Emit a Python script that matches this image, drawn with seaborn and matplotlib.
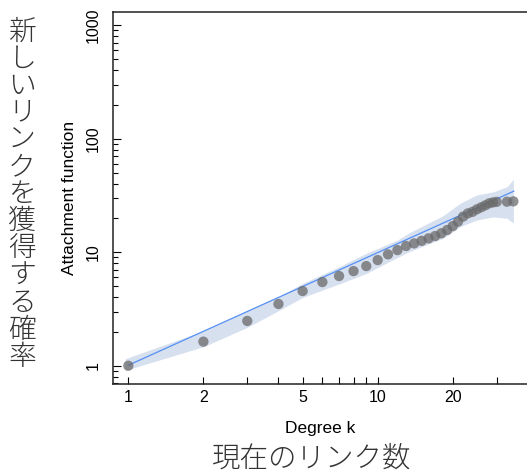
import matplotlib
matplotlib.use("Agg")
import matplotlib.pyplot as plt
import matplotlib.ticker as mticker
import seaborn as sns

# observed attachment function values
degree = [1, 2, 3, 4, 5, 6, 7, 8, 9, 10, 11, 12, 13, 14, 15, 16, 17, 18, 19, 20,
          21, 22, 23, 24, 25, 26, 27, 28, 29, 30, 33, 35]
attach = [1.0, 1.63, 2.48, 3.5, 4.55, 5.46, 6.17, 6.82, 7.55, 8.53, 9.58, 10.45,
          11.35, 11.97, 12.6, 13.25, 13.9, 14.7, 15.7, 17.0, 18.6, 20.6, 22.0,
          22.7, 23.9, 24.9, 25.9, 27.0, 27.5, 27.8, 27.9, 28.1]

# fitted power law (end points) and its confidence band
fit_k = [1, 35.2]
fit_f = [1.01, 34.6]
band_k = [0.97, 2, 3, 4, 5, 7, 9, 12, 13.5, 18.3, 21.4, 24.9, 29.1, 33, 35]
band_lo = [0.91, 1.47, 2.18, 3.05, 4.0, 5.25, 6.5, 9.0, 10.2, 13.3, 16.8, 19.2, 20.5, 19.9, 18.1]
band_hi = [1.15, 2.03, 3.05, 4.05, 5.32, 7.45, 9.8, 12.8, 15.0, 21.0, 27.0, 31.9, 34.1, 37.8, 43.9]

xticks = [1, 2, 5, 10, 20]
xminor = [3, 4, 6, 7, 8, 9, 30]
yticks = [1, 10, 100, 1000]

ylab_jp = "新しいリンクを獲得する確率"
xlab_jp = "現在のリンク数"

sns.set_style("ticks")
plt.rcParams["font.family"] = ["Liberation Sans", "DejaVu Sans"]
plt.rcParams["text.color"] = "black"
plt.rcParams["axes.labelcolor"] = "black"
plt.rcParams["xtick.color"] = "black"
plt.rcParams["ytick.color"] = "black"

W, H = 527, 472
fig = plt.figure(figsize=(W / 100, H / 100), dpi=100)
ax = fig.add_axes([113 / W, 88 / H, 1 - 113 / W, 372 / H])

ax.fill_between(band_k, band_lo, band_hi, color="#d6e0ef", lw=0, zorder=1)
sns.lineplot(x=fit_k, y=fit_f, color="#5590f5", lw=0.9, ax=ax, zorder=2)
sns.scatterplot(x=degree, y=attach, s=55, color="#6a6a6a", alpha=0.75,
                edgecolor="none", ax=ax, zorder=3)

ax.set_xscale("log")
ax.set_yscale("log")
ax.set_xlim(0.868, 39.7)
ax.set_ylim(0.69, 1310)

ax.set_xticks(xticks, labels=[str(v) for v in xticks])
ax.xaxis.set_minor_locator(mticker.FixedLocator(xminor))
ax.xaxis.set_minor_formatter(mticker.NullFormatter())
ax.set_yticks(yticks, labels=[str(v) for v in yticks])
ax.yaxis.set_minor_locator(mticker.LogLocator(base=10, subs=range(2, 10)))
ax.yaxis.set_minor_formatter(mticker.NullFormatter())

ax.tick_params(axis="x", which="both", direction="in", length=5, width=0.8,
               labelsize=11.5, pad=4)
ax.tick_params(axis="y", which="major", direction="in", length=5.8, width=0.8,
               labelsize=11.5, pad=9, labelrotation=90)
ax.tick_params(axis="y", which="minor", direction="in", length=3.6, width=0.8)
for lbl in ax.get_yticklabels():
    lbl.set_va("center")

for s in ["left", "bottom", "top"]:
    ax.spines[s].set_linewidth(1.1)
    ax.spines[s].set_color("#222222")
ax.spines["right"].set_visible(False)

ax.set_xlabel("Degree k", fontsize=12.5, labelpad=12)
ax.set_ylabel("Attachment function", fontsize=12.5, labelpad=6)

jp = ["Noto Sans CJK JP", "DejaVu Sans"]
for i, ch in enumerate(ylab_jp):
    fig.text(22 / W, 1 - (31.5 + i * 27.1) / H, ch, family=jp, fontsize=20,
             fontweight="light", ha="center", va="center", color="#333333")
fig.text(311.7 / W, 1 - 458 / H, xlab_jp, family=jp, fontsize=20.5,
         fontweight="light", ha="center", va="center", color="#333333")

fig.savefig("out.png", dpi=100)
